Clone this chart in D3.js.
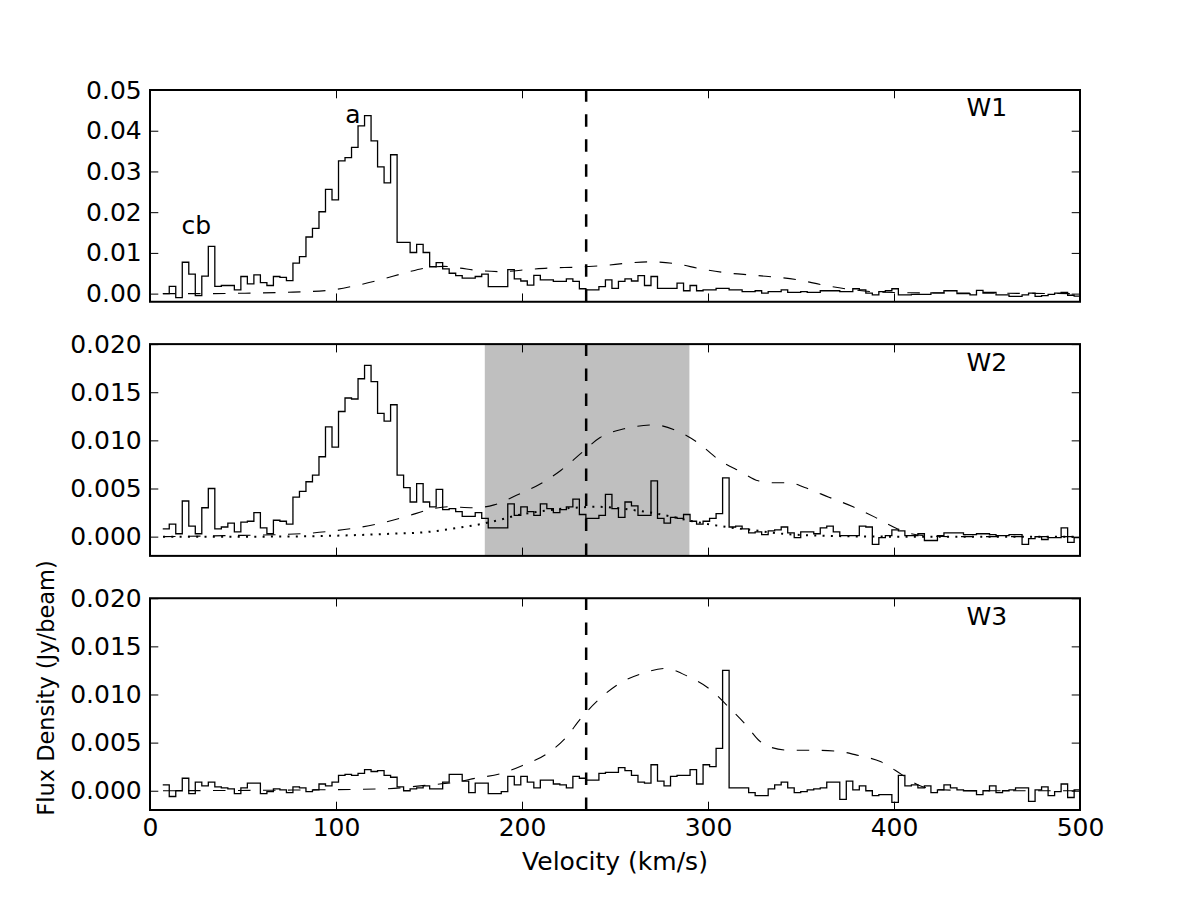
<!DOCTYPE html>
<html>
<head>
<meta charset="utf-8">
<script src="https://cdn.jsdelivr.net/npm/d3@7"></script>
<style>
  body { margin: 0; background: #ffffff; }
  svg text { font-family: "DejaVu Sans", sans-serif; }
</style>
</head>
<body>
<div id="vis"></div>
<script>
// channel edges (km/s) of the spectra, last one closes the final channel
const CHANNEL_EDGES = [6.85, 10.35, 13.85, 17.35, 20.85, 24.35, 27.85, 31.35, 34.85, 38.35,
  41.85, 45.35, 48.85, 52.35, 55.85, 59.35, 62.85, 66.35, 69.85, 73.35,
  76.85, 80.35, 83.85, 87.35, 90.85, 94.35, 97.85, 101.35, 104.85, 108.35,
  111.85, 115.35, 118.85, 122.35, 125.85, 129.35, 132.85, 136.35, 139.85, 143.35,
  146.85, 150.35, 153.85, 157.35, 160.85, 164.35, 167.85, 171.35, 174.85, 178.35,
  181.85, 185.35, 188.85, 192.35, 195.85, 199.35, 202.85, 206.35, 209.85, 213.35,
  216.85, 220.35, 223.85, 227.35, 230.85, 234.35, 237.85, 241.35, 244.85, 248.35,
  251.85, 255.35, 258.85, 262.35, 265.85, 269.35, 272.85, 276.35, 279.85, 283.35,
  286.85, 290.35, 293.85, 297.35, 300.85, 304.35, 307.85, 311.35, 314.85, 318.35,
  321.85, 325.35, 328.85, 332.35, 335.85, 339.35, 342.85, 346.35, 349.85, 353.35,
  356.85, 360.35, 363.85, 367.35, 370.85, 374.35, 377.85, 381.35, 384.85, 388.35,
  391.85, 395.35, 398.85, 402.35, 405.85, 409.35, 412.85, 416.35, 419.85, 423.35,
  426.85, 430.35, 433.85, 437.35, 440.85, 444.35, 447.85, 451.35, 454.85, 458.35,
  461.85, 465.35, 468.85, 472.35, 475.85, 479.35, 482.85, 486.35, 489.85, 493.35,
  496.85, 500.35];

// flux per channel (Jy/beam)
const FLUX_W1 = [0.0000, 0.0018, -0.0010, 0.0077, 0.0048, -0.0005, 0.0043, 0.0116, 0.0018, 0.0020,
  0.0020, 0.0009, 0.0042, 0.0024, 0.0046, 0.0027, 0.0020, 0.0042, 0.0040, 0.0032,
  0.0075, 0.0091, 0.0139, 0.0160, 0.0201, 0.0256, 0.0230, 0.0326, 0.0334, 0.0359,
  0.0412, 0.0437, 0.0375, 0.0311, 0.0272, 0.0341, 0.0126, 0.0126, 0.0101, 0.0121,
  0.0101, 0.0066, 0.0076, 0.0061, 0.0050, 0.0044, 0.0038, 0.0038, 0.0042, 0.0048,
  0.0017, 0.0017, 0.0017, 0.0059, 0.0036, 0.0031, 0.0021, 0.0045, 0.0034, 0.0034,
  0.0030, 0.0030, 0.0036, 0.0030, 0.0012, 0.0009, 0.0009, 0.0017, 0.0034, 0.0013,
  0.0030, 0.0036, 0.0031, 0.0044, 0.0020, 0.0042, 0.0013, 0.0013, 0.0013, 0.0026,
  0.0007, 0.0020, 0.0007, 0.0009, 0.0009, 0.0013, 0.0013, 0.0009, 0.0009, 0.0005,
  0.0005, 0.0007, 0.0001, 0.0005, 0.0005, 0.0009, 0.0003, 0.0003, 0.0005, 0.0003,
  0.0003, 0.0007, 0.0007, 0.0007, 0.0005, 0.0005, 0.0012, 0.0009, 0.0001, -0.0003,
  0.0005, 0.0007, 0.0012, -0.0003, -0.0003, -0.0002, -0.0002, -0.0002, 0.0002, 0.0002,
  0.0007, 0.0007, 0.0000, 0.0000, -0.0003, 0.0008, 0.0003, 0.0003, -0.0003, -0.0003,
  -0.0007, -0.0007, -0.0003, 0.0001, -0.0007, -0.0005, -0.0002, 0.0001, 0.0003, -0.0004,
  -0.0006];

const FLUX_W2 = [0.0008, 0.0013, 0.0003, 0.0037, 0.0011, 0.0003, 0.0030, 0.0050, 0.0008, 0.0010,
  0.0014, 0.0005, 0.0015, 0.0016, 0.0025, 0.0009, 0.0003, 0.0017, 0.0016, 0.0013,
  0.0041, 0.0047, 0.0057, 0.0064, 0.0083, 0.0114, 0.0093, 0.0130, 0.0144, 0.0143,
  0.0164, 0.0178, 0.0161, 0.0128, 0.0120, 0.0137, 0.0064, 0.0051, 0.0036, 0.0055,
  0.0036, 0.0031, 0.0049, 0.0028, 0.0029, 0.0026, 0.0021, 0.0021, 0.0025, 0.0019,
  0.0009, 0.0009, 0.0009, 0.0034, 0.0022, 0.0031, 0.0026, 0.0022, 0.0034, 0.0029,
  0.0025, 0.0028, 0.0031, 0.0039, 0.0023, 0.0019, 0.0019, 0.0022, 0.0044, 0.0029,
  0.0020, 0.0036, 0.0032, 0.0022, 0.0022, 0.0058, 0.0019, 0.0014, 0.0020, 0.0019,
  0.0023, 0.0016, 0.0013, 0.0016, 0.0019, 0.0024, 0.0061, 0.0010, 0.0011, 0.0008,
  0.0004, 0.0005, 0.0002, 0.0006, 0.0007, 0.0010, 0.0004, -0.0001, 0.0005, 0.0005,
  0.0003, 0.0009, 0.0011, 0.0005, 0.0001, 0.0001, 0.0001, 0.0011, 0.0010, -0.0008,
  -0.0001, 0.0001, 0.0007, 0.0006, 0.0001, 0.0001, 0.0003, -0.0004, -0.0004, 0.0001,
  0.0004, 0.0004, 0.0004, 0.0002, 0.0002, 0.0003, 0.0003, 0.0002, 0.0001, 0.0001,
  0.0002, 0.0002, -0.0008, -0.0002, 0.0000, -0.0003, -0.0001, -0.0001, 0.0009, -0.0006,
  -0.0001];

const FLUX_W3 = [0.0006, -0.0006, 0.0000, 0.0013, -0.0003, 0.0009, 0.0005, 0.0009, 0.0004, 0.0003,
  0.0002, -0.0003, 0.0003, 0.0008, 0.0008, -0.0003, -0.0001, 0.0002, 0.0001, -0.0002,
  0.0004, 0.0003, -0.0001, 0.0001, 0.0007, 0.0005, 0.0009, 0.0016, 0.0017, 0.0016,
  0.0018, 0.0022, 0.0020, 0.0021, 0.0016, 0.0014, 0.0004, 0.0000, 0.0002, 0.0003,
  0.0005, 0.0002, 0.0002, 0.0009, 0.0017, 0.0017, 0.0010, -0.0002, 0.0008, 0.0008,
  -0.0003, -0.0003, -0.0001, 0.0015, 0.0006, 0.0015, 0.0009, 0.0003, 0.0011, 0.0011,
  0.0007, 0.0006, 0.0003, 0.0015, 0.0013, 0.0011, 0.0011, 0.0018, 0.0019, 0.0019,
  0.0024, 0.0021, 0.0016, 0.0009, 0.0008, 0.0027, 0.0010, 0.0005, 0.0015, 0.0016,
  0.0016, 0.0022, 0.0007, 0.0027, 0.0025, 0.0044, 0.0125, 0.0003, 0.0003, 0.0003,
  -0.0002, -0.0005, -0.0005, 0.0002, 0.0006, 0.0009, 0.0003, -0.0002, -0.0001, 0.0001,
  0.0002, 0.0003, 0.0009, 0.0009, -0.0009, 0.0010, 0.0001, 0.0005, 0.0000, -0.0005,
  -0.0004, -0.0004, -0.0012, 0.0016, 0.0005, 0.0006, 0.0003, 0.0005, -0.0002, 0.0001,
  0.0006, 0.0003, 0.0001, 0.0000, 0.0000, -0.0004, 0.0000, 0.0005, -0.0002, 0.0000,
  0.0001, 0.0003, 0.0003, -0.0011, 0.0001, 0.0004, -0.0005, -0.0001, 0.0007, -0.0007,
  0.0001];

// model profiles, [velocity, flux]
const MODEL_W1 = [[7, 0.0000], [30, 0.0000], [51, 0.0001], [72, 0.0003], [96, 0.0008],
  [110, 0.0019], [123, 0.0033], [138, 0.0052], [147, 0.0062], [158, 0.0067],
  [166, 0.0063], [176, 0.0057], [189, 0.0054], [203, 0.0059], [215, 0.0063],
  [230, 0.0065], [244, 0.0069], [257, 0.0075], [269, 0.0078], [283, 0.0073],
  [296, 0.0061], [310, 0.0051], [325, 0.0045], [348, 0.0034], [362, 0.0021],
  [377, 0.0010], [391, 0.0004], [410, 0.0002], [450, 0.0001], [500, 0.0000]];

const MODEL_W2 = [[7, 0.0000], [40, 0.0001], [81, 0.0003], [99, 0.0006], [122, 0.0013],
  [138, 0.0021], [150, 0.0028], [160, 0.0031], [174, 0.0030], [185, 0.0033],
  [197, 0.0043], [210, 0.0055], [221, 0.0069], [232, 0.0087], [242, 0.0103],
  [255, 0.0112], [271, 0.0116], [282, 0.0111], [295, 0.0097], [305, 0.0081],
  [318, 0.0067], [327, 0.0058], [335, 0.0056], [344, 0.0056], [352, 0.0051],
  [365, 0.0041], [378, 0.0031], [390, 0.0020], [402, 0.0008], [412, 0.0002],
  [430, 0.0000], [500, 0.0000]];

const DOTTED_W2 = [[7, 0.0000], [60, 0.0000], [100, 0.0001], [130, 0.0003], [150, 0.0005],
  [165, 0.0009], [175, 0.0012], [187, 0.0017], [197, 0.0022], [213, 0.0027],
  [228, 0.0030], [240, 0.0031], [250, 0.0030], [262, 0.0027], [275, 0.0023],
  [289, 0.0017], [300, 0.0013], [310, 0.0010], [323, 0.0007], [340, 0.0003],
  [360, 0.0001], [400, 0.0000], [500, 0.0000]];

const MODEL_W3 = [[7, 0.0000], [90, 0.0001], [126, 0.0002], [150, 0.0006], [165, 0.0009],
  [175, 0.0013], [189, 0.0018], [200, 0.0026], [213, 0.0038], [223, 0.0054],
  [232, 0.0076], [242, 0.0096], [252, 0.0111], [265, 0.0122], [277, 0.0127],
  [290, 0.0118], [302, 0.0104], [311, 0.0087], [321, 0.0067], [327, 0.0053],
  [334, 0.0045], [345, 0.0042], [357, 0.0042], [370, 0.0041], [380, 0.0037],
  [393, 0.0030], [404, 0.0017], [413, 0.0006], [425, 0.0001], [450, 0.0000],
  [500, 0.0000]];

const SYSTEMIC_VEL = 234.5;
const SHADE_W2 = [180, 290];

const X_TICKS = [0, 100, 200, 300, 400, 500];
const Y_TICKS_W1 = [0.00, 0.01, 0.02, 0.03, 0.04, 0.05];
const Y_TICKS_W23 = [0.000, 0.005, 0.010, 0.015, 0.020];

const FRAME_WIDTH = 1200;
const FRAME_HEIGHT = 900;
const MARGINS = {left: 150, right: 120, top: 90, bottom: 90};
const VIS_WIDTH = FRAME_WIDTH - MARGINS.left - MARGINS.right;
const PANEL_GAP = 42.35;
const PANEL_HEIGHT = (FRAME_HEIGHT - MARGINS.top - MARGINS.bottom - 2 * PANEL_GAP) / 3;
const TICK = 8.3;
const FONT = 25;

const FRAME = d3.select("#vis")
  .append("svg")
    .attr("width", FRAME_WIDTH)
    .attr("height", FRAME_HEIGHT)
    .style("background", "#ffffff");

const X_SCALE = d3.scaleLinear()
  .domain([0, 500])
  .range([MARGINS.left, MARGINS.left + VIS_WIDTH]);

const panels = [
  {name: "W1", flux: FLUX_W1, model: MODEL_W1, dotted: null, shade: null,
   yMax: 0.05, ticks: Y_TICKS_W1, fmt: ".2f",
   labels: [{text: "a", v: 105, f: 0.0418}, {text: "cb", v: 17, f: 0.0146}]},
  {name: "W2", flux: FLUX_W2, model: MODEL_W2, dotted: DOTTED_W2, shade: SHADE_W2,
   yMax: 0.02, ticks: Y_TICKS_W23, fmt: ".3f", labels: []},
  {name: "W3", flux: FLUX_W3, model: MODEL_W3, dotted: null, shade: null,
   yMax: 0.02, ticks: Y_TICKS_W23, fmt: ".3f", labels: []}
];

panels.forEach((p, i) => {
  const top = MARGINS.top + i * (PANEL_HEIGHT + PANEL_GAP);
  const bottom = top + PANEL_HEIGHT;

  const Y_SCALE = d3.scaleLinear()
    .domain([-0.002, p.yMax])
    .range([bottom, top]);

  const g = FRAME.append("g").attr("class", "panel");

  g.append("clipPath")
      .attr("id", "clip" + i)
    .append("rect")
      .attr("x", MARGINS.left)
      .attr("y", top)
      .attr("width", VIS_WIDTH)
      .attr("height", PANEL_HEIGHT);

  const inner = g.append("g").attr("clip-path", "url(#clip" + i + ")");

  // shaded velocity window
  if (p.shade) {
    inner.append("rect")
      .attr("x", X_SCALE(p.shade[0]))
      .attr("y", top)
      .attr("width", X_SCALE(p.shade[1]) - X_SCALE(p.shade[0]))
      .attr("height", PANEL_HEIGHT)
      .attr("fill", "#bfbfbf");
  }

  // spectrum as steps
  const steps = CHANNEL_EDGES.map((v, k) => [v, p.flux[Math.min(k, p.flux.length - 1)]]);
  inner.append("path")
    .datum(steps)
    .attr("fill", "none")
    .attr("stroke", "#000")
    .attr("stroke-width", 1.3)
    .attr("d", d3.line()
      .x(d => X_SCALE(d[0]))
      .y(d => Y_SCALE(d[1]))
      .curve(d3.curveStepAfter));

  const smooth = d3.line()
    .x(d => X_SCALE(d[0]))
    .y(d => Y_SCALE(d[1]))
    .curve(d3.curveMonotoneX);

  inner.append("path")
    .datum(p.model)
    .attr("fill", "none")
    .attr("stroke", "#000")
    .attr("stroke-width", 1.1)
    .attr("stroke-dasharray", "12.5,12.5")
    .attr("d", smooth);

  if (p.dotted) {
    inner.append("path")
      .datum(p.dotted)
      .attr("fill", "none")
      .attr("stroke", "#000")
      .attr("stroke-width", 2)
      .attr("stroke-dasharray", "2,6.3")
      .attr("d", smooth);
  }

  // systemic velocity
  inner.append("line")
    .attr("x1", X_SCALE(SYSTEMIC_VEL))
    .attr("x2", X_SCALE(SYSTEMIC_VEL))
    .attr("y1", bottom)
    .attr("y2", top)
    .attr("stroke", "#000")
    .attr("stroke-width", 2.5)
    .attr("stroke-dasharray", "12.5,12.5");

  // axes, ticks pointing inwards
  const styleAxis = (sel) => {
    sel.select(".domain").remove();
    sel.attr("font-size", FONT).attr("font-family", "DejaVu Sans");
    sel.selectAll(".tick line").attr("stroke", "#000").attr("stroke-width", 1);
    sel.selectAll(".tick text").attr("fill", "#000");
  };

  g.append("g")
    .attr("transform", "translate(0," + bottom + ")")
    .call(d3.axisBottom(X_SCALE).tickValues(X_TICKS)
      .tickSizeInner(-TICK).tickSizeOuter(0).tickPadding(TICK)
      .tickFormat(i === 2 ? d3.format("d") : () => ""))
    .call(styleAxis);

  g.append("g")
    .attr("transform", "translate(0," + top + ")")
    .call(d3.axisTop(X_SCALE).tickValues(X_TICKS)
      .tickSizeInner(-TICK).tickSizeOuter(0).tickFormat(() => ""))
    .call(styleAxis);

  g.append("g")
    .attr("transform", "translate(" + MARGINS.left + ",0)")
    .call(d3.axisLeft(Y_SCALE).tickValues(p.ticks)
      .tickSizeInner(-TICK).tickSizeOuter(0).tickPadding(TICK)
      .tickFormat(d3.format(p.fmt)))
    .call(styleAxis);

  g.append("g")
    .attr("transform", "translate(" + (MARGINS.left + VIS_WIDTH) + ",0)")
    .call(d3.axisRight(Y_SCALE).tickValues(p.ticks)
      .tickSizeInner(-TICK).tickSizeOuter(0).tickFormat(() => ""))
    .call(styleAxis);

  // frame
  g.append("rect")
    .attr("x", MARGINS.left)
    .attr("y", top)
    .attr("width", VIS_WIDTH)
    .attr("height", PANEL_HEIGHT)
    .attr("fill", "none")
    .attr("stroke", "#000")
    .attr("stroke-width", 2);

  // panel name
  g.append("text")
    .attr("x", X_SCALE(439))
    .attr("y", top + 0.125 * PANEL_HEIGHT)
    .style("font-size", FONT + "px")
    .text(p.name);

  p.labels.forEach(l => {
    g.append("text")
      .attr("x", X_SCALE(l.v))
      .attr("y", Y_SCALE(l.f))
      .style("font-size", FONT + "px")
      .text(l.text);
  });

  if (i === 2) {
    FRAME.append("text")
      .attr("x", MARGINS.left + VIS_WIDTH / 2)
      .attr("y", bottom + 60)
      .attr("text-anchor", "middle")
      .style("font-size", FONT + "px")
      .text("Velocity (km/s)");

    FRAME.append("text")
      .attr("transform", "translate(54,688) rotate(-90)")
      .attr("text-anchor", "middle")
      .style("font-size", "22.5px")
      .text("Flux Density (Jy/beam)");
  }
});
</script>
</body>
</html>
